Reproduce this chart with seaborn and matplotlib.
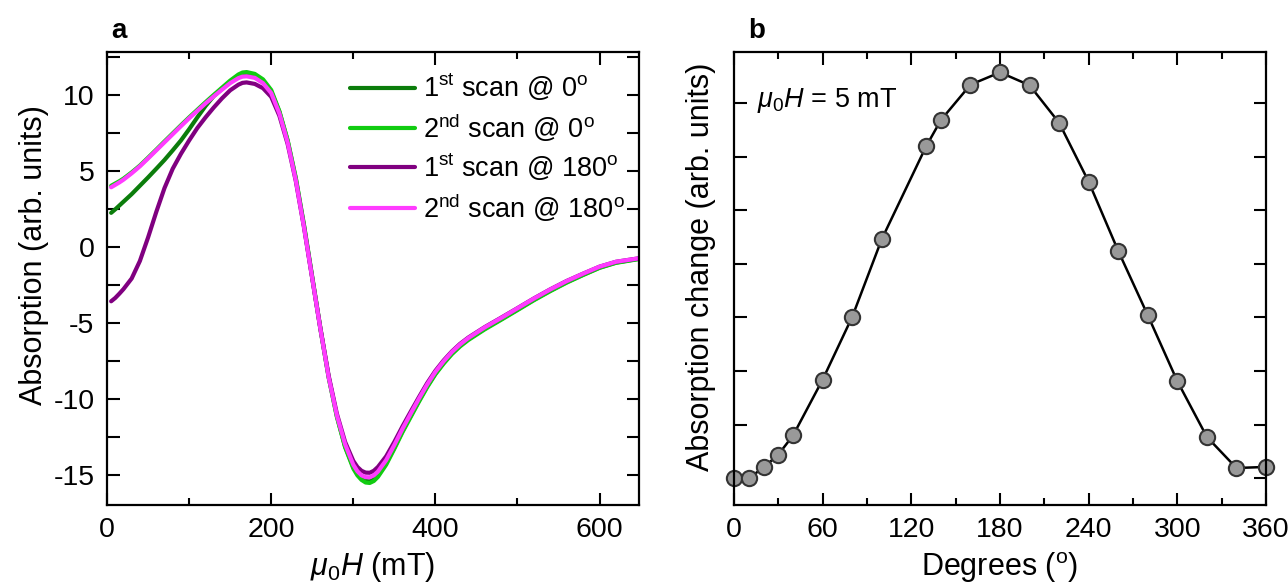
import matplotlib
matplotlib.use("Agg")
import matplotlib.pyplot as plt
from matplotlib.ticker import MultipleLocator
import seaborn as sns
import pandas as pd

# panel a: absorption vs field
field_mT = [5, 10, 15, 20, 30, 40, 50, 60, 70, 80, 90, 100, 110, 120, 130, 140, 150,
            160, 165, 170, 180, 190, 200, 210, 220, 230, 240, 250, 260, 270, 280,
            290, 300, 305, 310, 315, 320, 325, 330, 340, 350, 360, 370, 380, 390,
            400, 410, 420, 430, 440, 460, 480, 500, 520, 540, 560, 580, 600, 620, 648]
scan1_0 = [2.22, 2.45, 2.7, 2.95, 3.45, 4.0, 4.55, 5.12, 5.7, 6.33, 6.98, 7.72, 8.5,
           9.25, 9.9, 10.38, 10.85, 11.22, 11.32, 11.35, 11.25, 10.9, 10.2, 8.85,
           6.95, 4.45, 1.35, -2.05, -5.45, -8.6, -11.15, -13.15, -14.5, -14.95,
           -15.25, -15.42, -15.45, -15.32, -15.06, -14.27, -13.22, -12.13, -11.13,
           -10.14, -9.19, -8.35, -7.65, -7.03, -6.52, -6.1, -5.4, -4.78, -4.14, -3.5,
           -2.9, -2.34, -1.85, -1.38, -1.05, -0.8]
scan2_0 = [4.0, 4.15, 4.3, 4.47, 4.88, 5.33, 5.85, 6.38, 6.92, 7.45, 7.98, 8.5, 9.0,
           9.5, 9.98, 10.45, 10.92, 11.32, 11.45, 11.48, 11.36, 11.0, 10.3, 8.9, 7.0,
           4.5, 1.4, -2.0, -5.4, -8.6, -11.2, -13.2, -14.6, -15.05, -15.35, -15.52,
           -15.55, -15.42, -15.15, -14.35, -13.3, -12.2, -11.2, -10.2, -9.25, -8.4,
           -7.7, -7.08, -6.57, -6.15, -5.45, -4.82, -4.18, -3.53, -2.93, -2.37,
           -1.87, -1.4, -1.07, -0.82]
scan1_180 = [-3.6, -3.38, -3.1, -2.8, -2.1, -0.95, 0.6, 2.28, 3.85, 5.12, 6.1, 6.98,
             7.8, 8.5, 9.15, 9.75, 10.28, 10.65, 10.77, 10.8, 10.7, 10.42, 9.85, 8.6,
             6.75, 4.3, 1.25, -2.1, -5.4, -8.5, -11.0, -12.85, -14.1, -14.5, -14.75,
             -14.87, -14.88, -14.75, -14.5, -13.8, -12.85, -11.82, -10.85, -9.9,
             -8.98, -8.17, -7.49, -6.9, -6.4, -5.99, -5.3, -4.68, -4.05, -3.41,
             -2.81, -2.26, -1.78, -1.32, -1.0, -0.77]
scan2_180 = [3.9, 4.06, 4.22, 4.4, 4.82, 5.28, 5.8, 6.33, 6.86, 7.39, 7.92, 8.44, 8.93,
             9.42, 9.88, 10.32, 10.75, 11.08, 11.18, 11.2, 11.1, 10.75, 10.1, 8.75,
             6.85, 4.35, 1.25, -2.1, -5.45, -8.6, -11.1, -13.0, -14.35, -14.78, -15.05,
             -15.17, -15.18, -15.05, -14.8, -14.05, -13.05, -11.98, -10.98, -10.0,
             -9.07, -8.24, -7.55, -6.94, -6.44, -6.02, -5.32, -4.7, -4.06, -3.42,
             -2.82, -2.27, -1.78, -1.32, -1.0, -0.77]
scan_labels = [r"1$^{\mathrm{st}}$ scan @ 0$^{\mathrm{o}}$",
               r"2$^{\mathrm{nd}}$ scan @ 0$^{\mathrm{o}}$",
               r"1$^{\mathrm{st}}$ scan @ 180$^{\mathrm{o}}$",
               r"2$^{\mathrm{nd}}$ scan @ 180$^{\mathrm{o}}$"]
scan_colors = ["#0b7d0b", "#11cc11", "#800080", "#ff3cff"]

# panel b: angular dependence at 5 mT
angle_deg = [0, 10, 20, 30, 40, 60, 80, 100, 130, 140, 160, 180, 200, 220, 240,
             260, 280, 300, 320, 340, 360]
absorption_change = [0.0, 0.0, 0.2, 0.44, 0.8, 1.84, 3.01, 4.46, 6.19, 6.68, 7.34,
                     7.57, 7.33, 6.63, 5.53, 4.24, 3.04, 1.81, 0.77, 0.19, 0.21]

sns.set_style("ticks")
plt.rcParams["font.family"] = ["Liberation Sans", "DejaVu Sans"]
plt.rcParams["mathtext.fontset"] = "custom"
plt.rcParams["mathtext.rm"] = "Liberation Sans"
plt.rcParams["mathtext.it"] = "Liberation Sans:italic"
plt.rcParams["mathtext.bf"] = "Liberation Sans:bold"
plt.rcParams["axes.unicode_minus"] = False
for key in ["text.color", "axes.labelcolor", "xtick.color", "ytick.color",
            "axes.edgecolor"]:
    plt.rcParams[key] = "black"
plt.rcParams["axes.linewidth"] = 1.6

TICK_FS = 20.5
LABEL_FS = 22

frames = []
for lab, ys in zip(scan_labels, [scan1_0, scan2_0, scan1_180, scan2_180]):
    frames.append(pd.DataFrame({"field": field_mT, "absorption": ys, "scan": lab}))
df_a = pd.concat(frames, ignore_index=True)
df_b = pd.DataFrame({"angle": angle_deg, "change": absorption_change})

fig = plt.figure(figsize=(12.88, 5.87), dpi=100)
ax1 = fig.add_axes([0.0831, 0.1397, 0.4130, 0.7717])
ax2 = fig.add_axes([0.5699, 0.1397, 0.4130, 0.7717])

sns.lineplot(data=df_a, x="field", y="absorption", hue="scan",
             hue_order=scan_labels, palette=scan_colors, linewidth=3,
             estimator=None, sort=True, ax=ax1)
ax1.set_xlim(0, 648)
ax1.set_ylim(-17, 12.8)
ax1.xaxis.set_major_locator(MultipleLocator(200))
ax1.xaxis.set_minor_locator(MultipleLocator(100))
ax1.yaxis.set_major_locator(MultipleLocator(5))
ax1.yaxis.set_minor_locator(MultipleLocator(2.5))
ax1.set_xlabel(r"$\mu_{\mathrm{0}}H$ (mT)", fontsize=LABEL_FS, labelpad=5)
ax1.set_ylabel("Absorption (arb. units)", fontsize=LABEL_FS)
ax1.yaxis.set_label_coords(-0.11, 0.552)
h, l = ax1.get_legend_handles_labels()
ax1.legend(h, l, loc="upper left", frameon=False, fontsize=19.5,
           handlelength=2.4, handletextpad=0.3, labelspacing=0.3,
           borderpad=0, borderaxespad=0, bbox_to_anchor=(0.457, 0.956))

sns.lineplot(data=df_b, x="angle", y="change", color="black", linewidth=1.8,
             marker="o", markersize=11, markerfacecolor="#999999",
             markeredgecolor="#333333", markeredgewidth=1.5, clip_on=False, ax=ax2)
ax2.set_xlim(0, 360)
ax2.set_ylim(-0.5, 7.95)
ax2.xaxis.set_major_locator(MultipleLocator(60))
ax2.xaxis.set_minor_locator(MultipleLocator(30))
ax2.yaxis.set_major_locator(MultipleLocator(1))
ax2.set_yticklabels([])
ax2.set_xlabel(r"Degrees ($^{\mathrm{o}}$)", fontsize=LABEL_FS, labelpad=5)
ax2.set_ylabel("Absorption change (arb. units)", fontsize=LABEL_FS)
ax2.yaxis.set_label_coords(-0.034, 0.525)
ax2.text(0.043, 0.892, r"$\mu_{\mathrm{0}}H$ = 5 mT", transform=ax2.transAxes,
         fontsize=19.5, va="center", ha="left")

for ax in (ax1, ax2):
    ax.tick_params(which="both", direction="in", top=True, right=True,
                   labelsize=TICK_FS, width=1.5, pad=9)
    ax.tick_params(which="major", length=9)
    ax.tick_params(which="minor", length=5)
    for s in ax.spines.values():
        s.set_visible(True)
ax1.tick_params(axis="y", which="minor", length=9)

fig.text(0.0865, 0.948, "a", fontsize=20, fontweight="bold", va="center")
fig.text(0.581, 0.948, "b", fontsize=20, fontweight="bold", va="center")

fig.savefig("out.png", dpi=100)
